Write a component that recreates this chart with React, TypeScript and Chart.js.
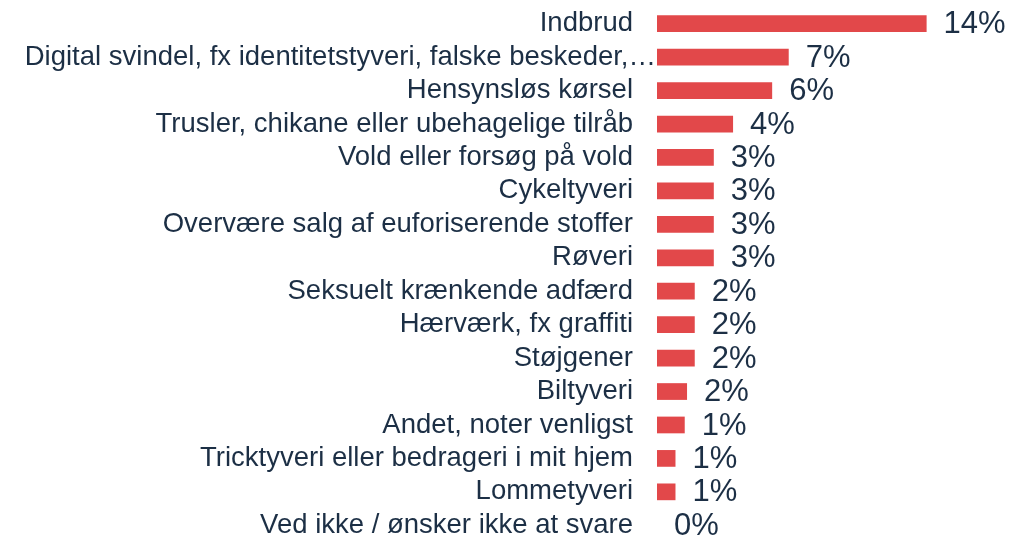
import React, { useEffect, useRef } from "react";
import { Chart, registerables } from "chart.js";

Chart.register(...registerables);

const categories = [
  "Indbrud",
  "Digital svindel, fx identitetstyveri, falske beskeder,…",
  "Hensynsløs kørsel",
  "Trusler, chikane eller ubehagelige tilråb",
  "Vold eller forsøg på vold",
  "Cykeltyveri",
  "Overvære salg af euforiserende stoffer",
  "Røveri",
  "Seksuelt krænkende adfærd",
  "Hærværk, fx graffiti",
  "Støjgener",
  "Biltyveri",
  "Andet, noter venligst",
  "Tricktyveri eller bedrageri i mit hjem",
  "Lommetyveri",
  "Ved ikke / ønsker ikke at svare",
];

const values = [14.0, 6.84, 5.98, 3.95, 2.95, 2.95, 2.95, 2.95, 1.96, 1.96, 1.96, 1.56, 1.44, 0.96, 0.96, 0];

const valueLabels = ["14%", "7%", "6%", "4%", "3%", "3%", "3%", "3%", "2%", "2%", "2%", "2%", "1%", "1%", "1%", "0%"];

// index of the truncated label that overflows up to the bars
const overflowIndex = 1;

const BAR_COLOR = "#E2484A";
const TEXT_COLOR = "#1C2F45";
const FONT = "'Liberation Sans', Arial, sans-serif";
const LABEL_SIZE = 27.5;

const valueLabelPlugin = {
  id: "valueLabels",
  afterDatasetsDraw(chart: any) {
    const ctx = chart.ctx;
    const meta = chart.getDatasetMeta(0);
    ctx.save();
    ctx.font = `31px ${FONT}`;
    ctx.fillStyle = TEXT_COLOR;
    ctx.textAlign = "left";
    ctx.textBaseline = "middle";
    meta.data.forEach((bar: any, i: number) => {
      ctx.fillText(valueLabels[i], bar.x + 17, bar.y + 1);
    });
    // overflowing category label
    const yScale = chart.scales.y;
    ctx.font = `${LABEL_SIZE}px ${FONT}`;
    ctx.textAlign = "right";
    ctx.fillText(categories[overflowIndex], chart.chartArea.left - 1, yScale.getPixelForValue(overflowIndex));
    ctx.restore();
  },
};

export default function App() {
  const canvasRef = useRef<HTMLCanvasElement | null>(null);

  useEffect(() => {
    if (!canvasRef.current) return;
    const chart = new Chart(canvasRef.current, {
      type: "bar",
      data: {
        labels: categories,
        datasets: [
          {
            data: values,
            backgroundColor: BAR_COLOR,
            borderWidth: 0,
            barPercentage: 0.5,
            categoryPercentage: 1,
          },
        ],
      },
      options: {
        indexAxis: "y",
        responsive: false,
        animation: false,
        layout: { padding: { top: 7, left: 0, right: 0, bottom: 0 } },
        plugins: {
          legend: { display: false },
          tooltip: { enabled: false },
        },
        scales: {
          x: {
            display: false,
            min: 0,
            max: 18.33,
          },
          y: {
            grid: { display: false, drawTicks: false },
            border: { display: false },
            ticks: {
              color: TEXT_COLOR,
              font: { size: LABEL_SIZE, family: FONT },
              padding: 24,
              autoSkip: false,
              callback: (_v: any, i: number) => (i === overflowIndex ? "" : categories[i]),
            },
            afterFit(scale: any) {
              scale.width = 657;
              scale.paddingTop = 0;
              scale.paddingBottom = 0;
            },
          },
        },
      },
      plugins: [valueLabelPlugin],
    });
    return () => chart.destroy();
  }, []);

  return (
    <div
      style={{
        position: "fixed",
        top: 0,
        left: 0,
        width: 1010,
        height: 538,
        overflow: "hidden",
        background: "#ffffff",
      }}
    >
      <canvas ref={canvasRef} width={1010} height={542} style={{ display: "block" }} />
    </div>
  );
}
